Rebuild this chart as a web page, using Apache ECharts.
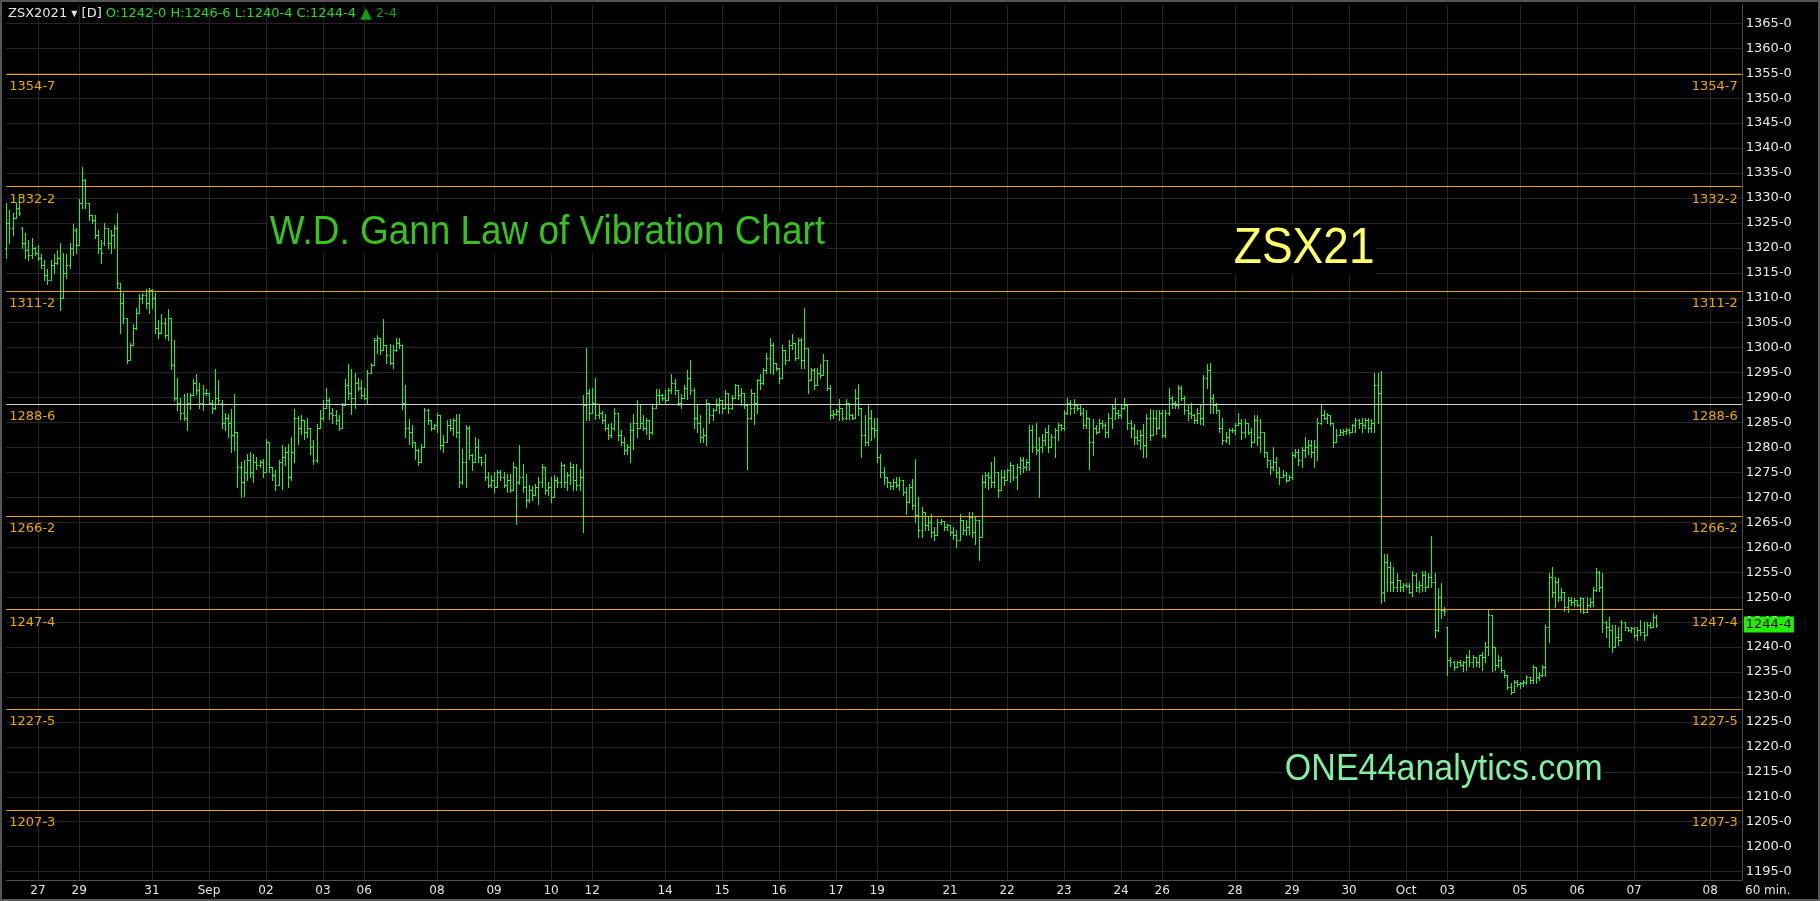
<!DOCTYPE html>
<html>
<head>
<meta charset="utf-8">
<script src="https://cdn.jsdelivr.net/npm/echarts@6/dist/echarts.min.js"></script>
<style>
html,body{margin:0;padding:0;background:#000;}
#c{width:1820px;height:901px;}
</style>
</head>
<body>
<div id="c"></div>
<script>
// ---- 60-min OHLC bars, ZSX2021 (values in cents, fractions = eighths) ----
// Aug 26 08:30 .. Sep 02 05:00
const segA = [
[1320,1329,1318,1325],[1325,1327.5,1321,1324],[1324,1327,1322.5,1326],[1326,1329,1326,1328],[1328,1330.75,1326.5,1327],
[1324,1324.25,1320,1321],[1321,1323,1318,1319.5],[1319.5,1321.5,1317.5,1318.5],[1318.5,1322,1318,1320],[1320,1320.25,1318.5,1319],
[1319,1320.5,1317.5,1318],[1318,1318.75,1316,1316.5],[1316.5,1317.5,1313.5,1314.5],[1314.5,1315.75,1312.75,1313.5],[1313.5,1317.5,1313.5,1316.5],
[1316.5,1318.75,1315,1317],[1317,1319.5,1316.75,1318],[1318,1321,1307.5,1310],[1310,1319,1310,1315],[1315,1318.75,1314,1316.5],
[1316.5,1321,1316,1320],[1320,1324.75,1318.5,1323.5],[1323.5,1324,1319,1320.5],[1320.5,1329.75,1320.5,1329],[1329,1336.25,1328,1333.5],
[1333.5,1333.75,1328,1329],[1329,1329,1325.5,1326.5],[1326.5,1326.5,1325,1325.5],[1325.5,1326.5,1322,1322.5],[1322.5,1323.5,1319,1320],
[1320,1321.5,1317,1319],[1321,1325,1320.5,1324],[1324,1324,1320,1321],[1321,1323.5,1319,1322.5],[1322.5,1324.5,1320,1324],
[1324,1327,1312,1313],[1312,1313,1303,1309],[1309,1311,1305,1306],[1306,1306,1297,1297.5],[1297.5,1301,1297.5,1300.5],
[1300.5,1304.75,1300.5,1304],[1304,1308,1303.75,1307],[1307,1310.75,1307,1310],[1310,1311,1309,1310.5],[1310.5,1311.75,1308,1309],
[1309,1312,1307,1311.5],[1311.5,1311.75,1308,1310],[1310,1311,1303,1304],[1304,1305.5,1302,1303],[1303,1306.75,1303,1305],
[1305,1306,1302,1302.5],[1302.5,1307.75,1301.5,1306],[1306,1306,1295.75,1296.5],[1296.5,1301.5,1289.5,1290],[1290,1294,1287.5,1289],
[1289,1290,1285.75,1287],[1287,1290.75,1285.5,1286],[1286,1291,1283.5,1289],[1289,1291,1287.75,1290.5],[1290.5,1293.75,1290.5,1293],
[1293,1294.75,1290.75,1291.5],[1291.5,1293,1288,1289],[1289,1292.5,1287.5,1291],[1291,1291.75,1290.5,1291],[1291,1291,1288.75,1289],
[1289,1289.5,1287,1288],[1288,1295.75,1287.75,1290],[1290,1293.5,1288.75,1289.5],[1289,1289.5,1284,1285],[1285,1287,1283.5,1286],
[1286,1286.75,1282,1285],[1285,1287.75,1279,1282.5],[1282.5,1290.75,1279.5,1283],[1283,1283,1272,1276],[1276,1277,1270,1273],
[1273,1277.5,1270.25,1275],[1275,1278.75,1273.5,1277.5],[1277.5,1279,1274,1275],[1275,1278.75,1273,1277],[1277,1278,1275.75,1276.5],
[1276.5,1277.5,1276,1277],[1277,1277.75,1274,1275],[1275,1281.75,1275,1281],[1281,1281,1275,1276],[1276,1276,1273.5,1274.5],
[1274.5,1275.5,1271.5,1272.5],[1272.5,1277.5,1272.5,1277],[1277,1280.5,1271.75,1278],[1278,1280,1276.5,1279]
];
// Sep 02 06:00 .. Sep 10 07:00
const segB = [
[1279,1280.75,1272,1274],[1274,1282,1273.5,1279],[1279,1287.75,1277,1286],[1286,1286.25,1280.75,1284],[1284,1286.5,1282.75,1285.5],
[1285.5,1285.5,1281.75,1283],[1283,1286,1282,1284],[1284,1284,1278.75,1280],[1280,1281.5,1276.75,1277.5],[1277.5,1284.75,1277,1284],
[1284,1287.5,1284,1286],[1286,1289.5,1285.5,1288],[1288,1292,1288,1289.5],[1289.5,1290,1285.75,1287],[1287,1288,1285,1286.5],
[1286.5,1287.5,1284.75,1285.5],[1285.5,1286.5,1283.5,1284],[1284,1289,1284,1288.5],[1288.5,1293.75,1288.5,1292.5],[1292.5,1296.75,1289.75,1291],
[1291,1295.75,1286.75,1290],[1290,1295,1288,1293],[1293,1294,1291.5,1292],[1292,1293.5,1290,1290.5],[1290.5,1292,1289.75,1290],
[1290,1295.5,1288.75,1295],[1295,1297,1295,1296.5],[1296.5,1302,1296.5,1301.5],[1301.5,1302.5,1299,1302],[1302,1302,1298.75,1299.5],
[1299.5,1305.75,1299.5,1300.5],[1300.5,1300.5,1297,1298.5],[1298.5,1300.75,1296.75,1297],[1297,1300.5,1296,1299.5],[1299.5,1302,1299.25,1301],
[1301,1302,1300,1300.5],[1300.5,1300.5,1287.75,1289],[1289,1292.5,1282,1284],[1284,1285.75,1280.75,1283],[1283,1284.5,1280,1281],
[1281,1281,1277.75,1279.5],[1279.5,1279.75,1276.5,1277],[1277,1280.75,1277,1280],[1280,1288,1280,1287.5],[1287.5,1287.75,1284.75,1285.5],
[1285.5,1285.5,1283.5,1284],[1284,1284.75,1283.75,1284.5],[1284.5,1287,1283,1286.5],[1286.5,1286.5,1279.75,1280.5],[1280.5,1282.5,1279,1281],
[1281,1285.5,1281,1284.5],[1284.5,1285.75,1283.5,1284],[1284,1286,1282.5,1285.5],[1285.5,1286.75,1282,1283],[1283,1286.75,1272,1273],
[1273,1279.75,1272.75,1277],[1277,1284.5,1272,1284],[1284,1284.25,1277.75,1278.5],[1278.5,1278.75,1275.5,1277],[1277,1282,1277,1280],
[1280,1281.75,1277,1278],[1278,1278,1276.5,1277],[1277,1278.75,1273.5,1274],[1274,1275,1272,1272.5],[1272.5,1274.5,1272,1273.5],
[1273.5,1275,1271,1272],[1272,1275.5,1272,1275],[1275,1275.5,1273.5,1274],[1274,1275,1272,1272.5],[1272.5,1274.75,1271,1273.5],
[1273.5,1274.75,1271,1271.5],[1271.5,1277,1271.5,1276],[1276,1276,1264.75,1273],[1273,1280.5,1272.75,1274],[1274,1276.75,1271,1272],
[1272,1274.75,1268,1269.5],[1269.5,1272.5,1269,1271.5],[1271.5,1272.25,1269.5,1270.5],[1270.5,1272.75,1270.5,1272],[1272,1274,1268.75,1273],
[1273,1276.75,1272,1276],[1276,1276,1270.75,1271.5],[1271.5,1273,1270.5,1272],[1272,1274,1269,1270],[1270,1274.5,1270,1273.5],
[1273.5,1274,1272,1273],[1273,1277,1272,1276.5],[1276.5,1276.75,1272,1273],[1273,1275,1271.5,1274.5],[1274.5,1277,1272.75,1276]
];
// Sep 10 08:30 .. Sep 17 19:00
const segC = [
[1276,1276.75,1271.5,1273.5],[1273.5,1276.75,1271.5,1272.5],[1272.5,1275.75,1271.5,1274],[1274,1290.5,1263,1288.5],[1288.5,1300,1285.5,1291],
[1291,1291.75,1285.5,1287],[1287,1292,1287,1289],[1289,1294,1285.75,1286.5],[1286.5,1288.5,1286,1287],[1287,1287.25,1285,1285.5],
[1285.5,1286.75,1283.5,1284],[1284,1284.75,1281.75,1282.5],[1282.5,1285,1282,1284],[1284,1288,1283.5,1287],[1287,1287,1281.5,1282.5],
[1282.5,1283.5,1280.5,1281],[1281,1282,1278.75,1279.5],[1279.5,1280.75,1278.75,1280],[1280,1285,1277,1283.5],[1283.5,1286.75,1279.75,1285],
[1285,1289.5,1282,1284],[1284,1288.5,1284,1285],[1285,1286.5,1283.5,1284],[1284,1286,1282.75,1285.5],[1285.5,1285.5,1281.75,1283],
[1283,1288.5,1282.75,1288],[1288,1291.75,1288,1290.5],[1290.5,1291.75,1289,1290.5],[1290.5,1290.75,1289.5,1290],[1290,1291.5,1289,1289.5],
[1289.5,1292,1289.5,1291.5],[1291.5,1294.75,1291,1293],[1293,1293.75,1290.75,1291.5],[1291.5,1291.5,1288.5,1289],[1289,1290.75,1288,1290],
[1290,1292.5,1290,1292],[1292,1295.5,1289.75,1294],[1294,1297.5,1290.75,1291.5],[1291.5,1292,1284,1286],[1286,1288.5,1283,1285],
[1285,1286.5,1281,1282],[1282,1284,1281,1282.5],[1282.5,1289.75,1280.5,1289],[1289,1289,1285,1286.5],[1286.5,1288,1285.5,1287.5],
[1287.5,1289.75,1287.5,1288.5],[1288.5,1290,1287,1289.5],[1289.5,1289.5,1287,1288],[1288,1291.5,1288,1291],[1291,1291,1287,1288],
[1288,1290.5,1287.75,1290],[1290,1292.75,1290,1292.5],[1292.5,1292.5,1289.75,1290.5],[1290.5,1292,1288.5,1291],[1291,1291,1288,1288.5],
[1288.5,1288.5,1275.75,1286],[1286,1291.75,1285.75,1291],[1291,1291,1284.75,1289],[1289,1293.75,1287,1293.5],[1293.5,1294.75,1291.75,1293],
[1293,1296,1292.75,1295.5],[1295.5,1299,1295,1298],[1298,1302,1295,1300.5],[1300.5,1301,1294.75,1297],[1297,1297,1295.5,1296],
[1296,1296,1293,1294],[1294,1300.5,1294,1299.5],[1299.5,1299.5,1296.75,1297.5],[1297.5,1301.5,1297.5,1300.5],[1300.5,1302.75,1299.75,1301],
[1301,1301,1297.5,1298],[1298,1302,1298,1301.5],[1301.5,1302,1296,1297.5],[1297.5,1308,1296,1300],[1300,1300,1291,1293.5],
[1293.5,1296,1293.5,1295.5],[1295.5,1296,1291.75,1292.5],[1292.5,1296,1292.5,1295],[1295,1296.75,1294,1294.5],[1294.5,1298.75,1294.5,1297.5],
[1297.5,1297.5,1291.5,1292],[1292,1292.5,1285.75,1286.5],[1286.5,1287.5,1286,1286.75],[1286.75,1287.75,1286.5,1287.25],[1287.25,1289.75,1285.5,1288],
[1288,1288,1285.5,1286],[1286,1289.75,1285.75,1289],[1289,1289,1285.75,1286.5],[1286.5,1286.75,1285.75,1286],[1286,1291.75,1286,1290],
[1290,1292.75,1286.5,1288]
];
// Sep 17 20:00 .. Sep 24 20:00
const segD = [
[1288,1288,1278,1282.5],[1282.5,1286.5,1280.5,1281],[1281,1288.75,1280.5,1286],[1286,1287.5,1281.5,1284],[1284,1286,1282,1283.5],
[1283.5,1286,1277,1278],[1278,1278.75,1274,1275],[1275,1276,1272.75,1274],[1274,1274,1272,1273],[1273,1273,1271.75,1272.25],
[1272.25,1273.75,1271.75,1273],[1273,1274,1272,1272.5],[1272.5,1274,1271.5,1273.5],[1273.5,1273.5,1270.5,1271],[1271,1272,1266.75,1269],
[1269,1272.75,1269,1272],[1272,1273.75,1267.75,1268.5],[1268.5,1277.75,1265,1266.5],[1266.5,1270,1262,1263.5],[1263.5,1268,1262,1267],
[1267,1267,1263.5,1264.5],[1264.5,1266,1263.5,1265],[1265,1266.75,1262,1263],[1263,1264,1261.5,1262.5],[1262.5,1265.75,1262.5,1265],
[1265,1265.75,1264.75,1265.25],[1265.25,1265.25,1263.5,1264],[1264,1264.75,1263.5,1264.5],[1264.5,1264.5,1262.5,1263],[1263,1264,1261.75,1262.5],
[1262.5,1263.5,1260,1261.5],[1261.5,1266.75,1261.5,1265.5],[1265.5,1265.5,1262.75,1263.5],[1263.5,1265.5,1262.5,1264],[1264,1267,1262.75,1266],
[1266,1267,1262,1263],[1263,1266,1260.75,1265.5],[1265.5,1265.5,1257.5,1262],[1262,1274.5,1262,1273],[1273,1275,1272,1274.5],
[1274.5,1275,1271.75,1274],[1274,1277,1272,1273],[1273,1278,1272,1275],[1275,1275,1270,1271.5],[1271.5,1275.5,1271.5,1274],
[1274,1275.5,1272.5,1273.5],[1273.5,1275.75,1273.5,1275.5],[1275.5,1277,1273,1276.5],[1276.5,1276.5,1273.5,1274],[1274,1276.75,1271.75,1276],
[1276,1278,1274.75,1277.5],[1277.5,1278,1275,1276],[1276,1277.75,1275.5,1277],[1277,1284.5,1275.5,1283.5],[1283.5,1284.5,1279,1280],
[1280,1285,1278.75,1279.5],[1279.5,1282,1270,1280],[1280,1282.75,1279,1281.5],[1281.5,1284,1280.5,1283],[1283,1284.5,1279,1280],
[1280,1282.75,1280,1282],[1282,1284,1278,1283.5],[1283.5,1285,1281.5,1284.5],[1284.5,1284.75,1283.5,1284],[1284,1287.5,1283.5,1287],
[1287,1290,1286.75,1289],[1289,1289.5,1286.75,1288],[1288,1289.75,1287,1288.5],[1288.5,1288.75,1287.5,1288],[1288,1288.5,1286.5,1287],
[1287,1288,1284,1284.5],[1284.5,1287.5,1284,1286],[1286,1286,1275.75,1281],[1281,1285.75,1278.5,1284],[1284,1284.5,1282.75,1283],
[1283,1285.75,1283,1285],[1285,1285.5,1284,1284.5],[1284.5,1285,1282,1283],[1283,1287,1282,1286],[1286,1288.75,1284,1288],
[1288,1290,1285.75,1287],[1287,1287.5,1286,1286.5],[1286.5,1288.75,1286,1288],[1288,1290,1287.75,1288.5],[1288.5,1288.5,1283.75,1285],
[1285,1285.5,1282,1284],[1284,1284.75,1280.75,1282],[1282,1283.5,1280.75,1281.5],[1281.5,1283.5,1279.75,1282.5],[1282.5,1284.75,1278,1280.5]
];
// Sep 24 21:00 .. Sep 30 10:30 (report bar)
const segE = [
[1280.5,1286.75,1278,1286],[1286,1287.75,1281.5,1282.5],[1282.5,1287.5,1282.5,1286],[1286,1287.5,1282.75,1284],[1284,1287.5,1284,1287],
[1287,1287.5,1282,1282.5],[1282.5,1287.5,1282,1287],[1287,1292,1286.5,1290],[1290,1290.25,1288,1289],[1289,1289.25,1288,1288.5],
[1288.5,1292.5,1288,1292],[1292,1292.25,1289.5,1290],[1290,1290.25,1286.75,1287.5],[1287.5,1288.5,1285.5,1287],[1287,1289,1286,1286.5],
[1286.5,1286.75,1285,1285.5],[1285.5,1288,1285,1287],[1287,1288.75,1284.75,1286],[1286,1294.5,1284.5,1294],[1294,1296.75,1292,1295.5],
[1295.5,1297,1287,1290],[1290,1290.75,1287,1288.5],[1288.5,1289,1287,1287.5],[1287.5,1287.5,1283,1284],[1284,1286,1280.75,1281.5],
[1281.5,1283,1281,1282],[1282,1284,1280.75,1283.5],[1283.5,1284,1283,1283.5],[1283.5,1285,1282.75,1284.5],[1284.5,1287,1284.5,1285],
[1285,1285.75,1281.75,1283],[1283,1285.75,1282,1285],[1285,1285,1282.75,1283],[1283,1284,1280,1281],[1281,1286.5,1281,1285.5],
[1285.5,1286.5,1280.5,1282],[1282,1285.75,1279,1283],[1283,1283,1278,1279],[1279,1279,1276,1277.5],[1277.5,1277.5,1274.75,1276],
[1276,1280,1275.5,1277],[1277,1278,1274,1275],[1275,1276,1272.75,1274],[1274,1275.5,1274,1274.5],[1274.5,1275,1273,1273.5],
[1273.5,1274.5,1273.5,1274],[1274,1279,1273.75,1278.5],[1278.5,1279.75,1278,1279],[1279,1279.75,1276.5,1277.5],[1277.5,1280,1276,1279.5],
[1279.5,1282,1278,1280],[1280,1281.5,1278.75,1280.5],[1280.5,1281.5,1278,1279],[1279,1281.5,1276,1280],[1280,1286,1277.5,1285],
[1285,1288.5,1284.75,1286.5],[1286.5,1287.5,1285.75,1286],[1286,1287,1285,1286.5],[1286.5,1286.5,1284.5,1285],[1285,1285,1280,1281],
[1281,1283.75,1281,1282.5],[1282.5,1283.75,1282.5,1283],[1283,1283.75,1282.5,1283.25],[1283.25,1284,1282.75,1283.5],[1283.5,1284,1282.75,1283],
[1283,1284.75,1283,1284.5],[1284.5,1286,1283,1285.5],[1285.5,1285.75,1284,1285],[1285,1286,1283,1284.5],[1284.5,1286,1284,1285.5],
[1285.5,1286,1283,1284],[1284,1285.75,1283,1285],[1285,1295,1283,1292.5],[1292.5,1295,1285,1291],[1291,1295.25,1248.75,1250.75]
];
// Sep 30 11:30 .. Oct 07 07:00
const segF = [
[1251,1258.75,1249.25,1257],[1257,1258.75,1251.25,1256],[1256,1257,1251.25,1253],[1253,1256,1251.25,1252],[1252,1254.75,1251.25,1253.5],
[1253.5,1253.5,1251.25,1252],[1252,1252.75,1251.25,1252.5],[1252.5,1252.75,1252,1252.25],[1252.25,1252.75,1250.75,1251],[1251,1255.25,1250.25,1254.5],
[1254.5,1254.75,1251.25,1252],[1252,1253.25,1251,1252.5],[1252.5,1255.25,1251.25,1254.5],[1254.5,1255.25,1251.25,1252],[1252,1254.75,1252,1254],
[1254,1262.25,1252,1253],[1253,1254.75,1242,1243.5],[1243.5,1251.75,1243.25,1250],[1250,1252.75,1245.75,1247.5],[1247.5,1248,1246.5,1247.25],
[1244,1244,1234.5,1237.5],[1237.5,1238,1236.25,1237],[1237,1237.25,1235.5,1236],[1236,1237.25,1236,1237],[1237,1237.5,1236.25,1236.5],
[1236.5,1237.25,1235.25,1237],[1237,1238.5,1235.5,1238],[1238,1239.5,1236.25,1237],[1237,1238.5,1236,1238],[1238,1238,1236.25,1237],
[1237,1238.5,1236,1238.5],[1238.5,1239,1235.5,1238],[1238,1241,1237,1240],[1240,1247.5,1238.5,1246.5],[1246.5,1246.5,1235.25,1240],
[1240,1240,1235.5,1236.5],[1236.5,1238.5,1236,1237.5],[1237.5,1238,1235,1235.5],[1235.5,1235.5,1234,1234.5],[1234.5,1234.5,1231.5,1232],
[1232,1232.75,1230.5,1231],[1231,1233.5,1231,1233],[1233,1233.5,1232.25,1232.5],[1232.5,1233,1231.75,1232.75],[1232.75,1233.5,1232.25,1233],
[1233,1234.5,1232.5,1234],[1234,1234,1232.75,1233.5],[1233.5,1236.5,1232.75,1236],[1236,1236,1232.75,1234],[1234,1235,1233.5,1234.5],
[1234.5,1236.5,1234.25,1236],[1236,1244.5,1234.25,1244],[1244,1254.75,1241,1254],[1254,1256,1250,1251],[1251,1254,1248,1253],
[1253,1253.75,1249.25,1250],[1250,1251.75,1249.5,1251],[1251,1251,1247.25,1248],[1248,1250,1247,1249.5],[1249.5,1250,1248.5,1249],
[1249,1249.75,1248.25,1249.5],[1249.5,1249.5,1248.25,1248.5],[1248.5,1250,1247,1249.75],[1249.75,1249.75,1246.75,1247],[1247,1250,1247,1248.5],
[1248.5,1249.75,1248,1249],[1249,1252,1248.25,1251.5],[1251.5,1255.75,1251.25,1255],[1255,1255.25,1251.25,1252],[1252,1254.75,1243,1245],
[1245,1245.25,1242,1244],[1244,1246,1240,1243.5],[1243.5,1244.5,1239,1240],[1240,1244.5,1240,1242],[1242,1244,1240.5,1241.5],
[1241.5,1245.5,1241.5,1245],[1245,1245,1243.5,1244],[1244,1244,1243.25,1243.5],[1243.5,1244,1243,1243.75],[1243.75,1244,1242,1242.5],
[1242.5,1244,1241.5,1243.5],[1243.5,1245.5,1242.5,1243],[1243,1245,1241.5,1242.5],[1242.5,1245,1242.5,1244.5],[1244.5,1245,1243.75,1244],
[1244,1246.75,1244,1246],[1246,1246.5,1244,1244.5]
];

// Gann "law of vibration" levels
const levels = [1354.875, 1332.25, 1311.25, 1288.75, 1266.25, 1247.5, 1227.625, 1207.375];
// right price scale ticks
const yTicks = [1195,1200,1205,1210,1215,1220,1225,1230,1235,1240,1245,1250,1255,1260,1265,1270,1275,1280,1285,1290,1295,1300,1305,1310,1315,1320,1325,1330,1335,1340,1345,1350,1355,1360,1365];
// daily bar shown in header
const daily = {o:1242, h:1246.75, l:1240.5, c:1244.5, chg:2.5};
const lastPrice = 1244.5;
// trading days (overnight session starts 19:00 the evening before)
const tradingDays = ['2021-08-26','2021-08-27','2021-08-30','2021-08-31','2021-09-01','2021-09-02','2021-09-03',
'2021-09-07','2021-09-08','2021-09-09','2021-09-10','2021-09-13','2021-09-14','2021-09-15','2021-09-16','2021-09-17',
'2021-09-20','2021-09-21','2021-09-22','2021-09-23','2021-09-24','2021-09-27','2021-09-28','2021-09-29','2021-09-30',
'2021-10-01','2021-10-04','2021-10-05','2021-10-06','2021-10-07'];
const slotCount = 549; // bars + empty future slots on the time axis
const monthAbbr = ['Jan','Feb','Mar','Apr','May','Jun','Jul','Aug','Sep','Oct','Nov','Dec'];

const ohlc = [].concat(segA, segB, segC, segD, segE, segF);

// ---- build the time categories ----
const HOUR = 3600000;
const times = [];
tradingDays.forEach((ds, k) => {
  const p = ds.split('-').map(Number);
  const day0 = Date.UTC(p[0], p[1]-1, p[2]);
  if (k > 0) { for (let h = -5; h <= 7; h++) times.push(day0 + h*HOUR); }
  if (k < tradingDays.length - 1) { for (let h = 0; h < 5; h++) times.push(day0 + (8.5 + h)*HOUR); }
});
let tt = times[times.length-1];
while (times.length < slotCount) { tt += HOUR; times.push(tt); }
const cats = times.map(t => new Date(t).toISOString().slice(0,16).replace('T',' '));

const shown = new Map();
(function(){
  let prev = cats[0].slice(0,10), last = -99;
  cats.forEach((c, i) => {
    const dt = c.slice(0,10);
    if (dt !== prev) {
      if (i - last >= 8) {
        const dd = dt.slice(8,10);
        shown.set(i, dd === '01' ? monthAbbr[+dt.slice(5,7)-1] : dd);
        last = i;
      }
      prev = dt;
    }
  });
})();

function fmt(v) {
  const n = Math.floor(v + 1e-9);
  return n + '-' + Math.round((v - n) * 8);
}

const BAR = '#1ef51e';
const LEVEL = '#eaa900';
const FONT = 'DejaVu Sans';
const CLEAR = 'rgba(0,0,0,0)';

function renderItem(params, api) {
  const i = api.value(0);
  const pO = api.coord([i, api.value(1)]);
  const yH = Math.round(api.coord([i, api.value(2)])[1]);
  const yL = Math.round(api.coord([i, api.value(3)])[1]);
  const yC = Math.round(api.coord([i, api.value(4)])[1]);
  const x = Math.round(pO[0]);
  const st = {fill: BAR};
  return {type:'group', children:[
    {type:'rect', shape:{x:x, y:yH, width:1, height:Math.max(1, yL - yH + 1)}, style:st},
    {type:'rect', shape:{x:x-1, y:Math.round(pO[1]), width:1, height:1}, style:st},
    {type:'rect', shape:{x:x+1, y:yC, width:1, height:1}, style:st}
  ]};
}

const chart = echarts.init(document.getElementById('c'), null, {renderer:'canvas', width:1820, height:901});
const option = {
  backgroundColor: '#000',
  animation: false,
  textStyle: {fontFamily: FONT},
  grid: {left: 6.3, right: 78.2, top: 5, bottom: 21},
  xAxis: {
    type: 'category', data: cats, boundaryGap: false,
    axisLine: {show: true, lineStyle: {color: '#505050', width: 1}},
    axisTick: {show: false},
    axisLabel: {interval: (i) => shown.has(i), formatter: (v, i) => shown.get(i) || '', color: '#e4e4e4', fontSize: 12, fontFamily: FONT, margin: 5},
    splitLine: {show: true, interval: (i) => shown.has(i), lineStyle: {color: '#262626', width: 1}}
  },
  yAxis: {
    type: 'value', position: 'right', min: 1193.32, max: 1368.67,
    axisLine: {show: true, lineStyle: {color: '#505050', width: 1}},
    axisTick: {show: false},
    splitLine: {show: false},
    axisLabel: {customValues: yTicks, formatter: (v) => fmt(v), color: '#e8e8e8', fontSize: 13, fontFamily: FONT, margin: 4}
  },
  series: [
    { // horizontal price grid
      type: 'line', data: [], silent: true, z: 1,
      markLine: {silent: true, z: 1, symbol: ['none','none'], animation: false, label: {show: false},
        lineStyle: {color: '#262626', width: 1, type: 'solid'},
        data: yTicks.map(v => ({yAxis: v}))}
    },
    {
      type: 'custom', name: 'ZSX2021', z: 3, renderItem: renderItem,
      encode: {x: 0, y: [1,2,3,4]},
      data: ohlc.map((d, i) => [i, d[0], d[1], d[2], d[3]])
    },
    { // level lines + left labels
      type: 'line', data: [], silent: true, z: 4,
      markLine: {silent: true, z: 4, symbol: ['none','none'], animation: false,
        lineStyle: {width: 1, type: 'solid'},
        label: {show: true, position: 'insideStartBottom', formatter: (p) => fmt(p.value), color: LEVEL, fontSize: 13, fontFamily: FONT, distance: [3, 6]},
        data: levels.map(v => ({yAxis: v, lineStyle: {color: v === 1288.75 ? '#d0d0d0' : LEVEL}}))}
    },
    { // right labels
      type: 'line', data: [], silent: true, z: 4,
      markLine: {silent: true, z: 4, symbol: ['none','none'], animation: false,
        lineStyle: {width: 1, color: CLEAR},
        label: {show: true, position: 'insideEndBottom', formatter: (p) => fmt(p.value), color: LEVEL, fontSize: 13, fontFamily: FONT, distance: [4, 6]},
        data: levels.map(v => ({yAxis: v}))}
    },
    { // last price tag
      type: 'line', data: [], silent: true, z: 6,
      markLine: {silent: true, z: 6, symbol: ['none','none'], animation: false,
        lineStyle: {width: 1, color: CLEAR},
        label: {show: true, position: 'end', formatter: () => fmt(lastPrice), color: '#000', backgroundColor: '#22ee00', padding: [2,2,1,2], fontSize: 13, fontFamily: FONT, distance: 2},
        data: [{yAxis: lastPrice}]}
    }
  ],
  graphic: [
    {type:'rect', z: 20, silent: true, shape:{x:1, y:1, width:1818, height:899}, style:{fill:'none', stroke:'#555', lineWidth:2}},
    {type:'text', z: 10, x: 8, y: 14, style:{
      text: '{w|ZSX2021} {a|▼} {w|[D]} {g|O:' + fmt(daily.o) + ' H:' + fmt(daily.h) + ' L:' + fmt(daily.l) + ' C:' + fmt(daily.c) + '} {t|▲} {d|' + fmt(daily.chg) + '}',
      verticalAlign: 'middle', align: 'left', font: '13px "DejaVu Sans"',
      rich: {
        w: {fill:'#e6e6e6', fontSize:13, fontFamily:FONT},
        a: {fill:'#e6e6e6', fontSize:8, fontFamily:FONT},
        g: {fill:'#22dd22', fontSize:13, fontFamily:FONT},
        t: {fill:'#10a010', fontSize:15, fontFamily:FONT},
        d: {fill:'#10a010', fontSize:13, fontFamily:FONT}
      }}},
    {type:'text', z: 10, x: 268, y: 233, scaleX: 0.9, style:{text:'W.D. Gann Law of Vibration Chart', fill:'#36c41c', font:'41px "Liberation Sans"', verticalAlign:'middle', align:'left', backgroundColor:'#000', padding:[0,2]}},
    {type:'text', z: 10, x: 1232, y: 249, scaleX: 0.92, style:{text:'ZSX21', fill:'#ffff66', font:'50px "Liberation Sans"', verticalAlign:'middle', align:'left', backgroundColor:'#000', padding:[0,2]}},
    {type:'text', z: 10, x: 1283, y: 770, scaleX: 0.92, style:{text:'ONE44analytics.com', fill:'#7ff0a0', font:'37px "Liberation Sans"', verticalAlign:'middle', align:'left', backgroundColor:'#000', padding:[0,2]}},
    {type:'text', z: 10, x: 1745, y: 891, style:{text:'60 min.', fill:'#e4e4e4', font:'12px "DejaVu Sans"', verticalAlign:'middle', align:'left'}}
  ]
};
chart.setOption(option);
</script>
</body>
</html>
